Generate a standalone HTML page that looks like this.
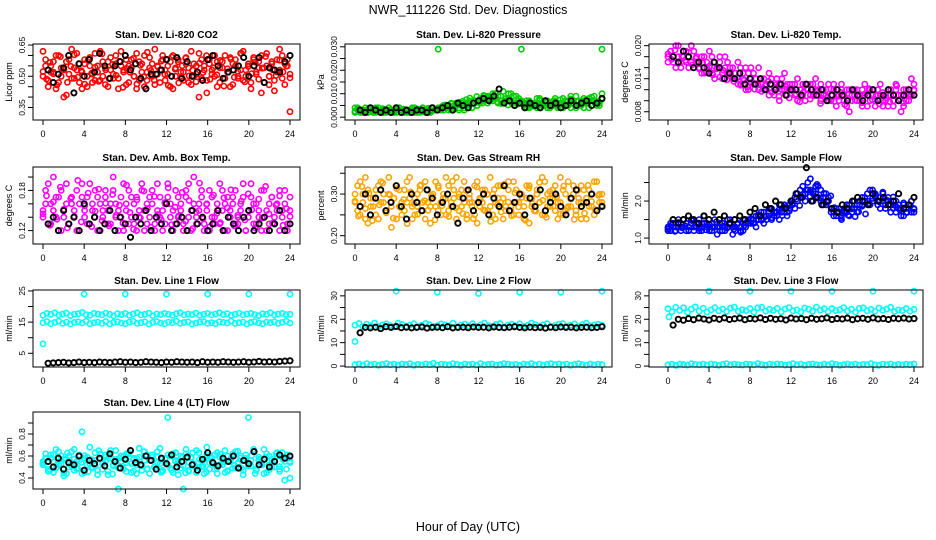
<!DOCTYPE html>
<html><head><meta charset="utf-8">
<style>
html,body{margin:0;padding:0;background:#fff;}
svg{display:block;font-family:"Liberation Sans",Arial,sans-serif;}
</style></head>
<body>
<svg id="chart" width="936" height="540" viewBox="0 0 936 540">
<text x="468" y="14" font-size="12.5" text-anchor="middle">NWR_111226  Std. Dev. Diagnostics</text>
<text x="468" y="531" font-size="12.5" text-anchor="middle">Hour of Day (UTC)</text>
<g id="panels"></g>
</svg>
<script>
const xTicks = [0,4,8,12,16,20,24];

const co2A = [0.62,0.55,0.48,0.52,0.57,0.44,0.60,0.50,0.53,0.41,0.58,0.49,0.54,0.61,0.47,0.52,0.56,0.45,0.59,0.51,0.48,0.55,0.62,0.50,0.46,0.57,0.53,0.49,0.60,0.44,0.55,0.52,0.58,0.47,0.54,0.50,0.61,0.48,0.56,0.45,0.52,0.59,0.50,0.46,0.55,0.53,0.60,0.48,0.51,0.57,0.44,0.54,0.58,0.49,0.52,0.56,0.47,0.62,0.50,0.55,0.40,0.58,0.53,0.48,0.56,0.51,0.60,0.45,0.54,0.57,0.49,0.52,0.59,0.46,0.55,0.50,0.61,0.48,0.53,0.56,0.44,0.58,0.51,0.54,0.60,0.47,0.55,0.50,0.57,0.43,0.52,0.63,0.49,0.56,0.58,0.33];
const co2B = [0.50,0.58,0.45,0.55,0.52,0.60,0.47,0.54,0.40,0.57,0.51,0.63,0.49,0.53,0.56,0.44,0.58,0.50,0.55,0.47,0.61,0.52,0.48,0.57,0.54,0.45,0.59,0.51,0.56,0.49,0.62,0.53,0.46,0.55,0.58,0.50,0.44,0.57,0.52,0.60,0.48,0.54,0.56,0.63,0.51,0.47,0.58,0.53,0.55,0.45,0.60,0.50,0.57,0.52,0.48,0.59,0.54,0.46,0.56,0.51,0.61,0.49,0.55,0.42,0.58,0.53,0.50,0.57,0.47,0.54,0.60,0.52,0.45,0.56,0.58,0.49,0.53,0.62,0.50,0.55,0.47,0.59,0.52,0.57,0.42,0.54,0.61,0.50,0.56,0.48,0.58,0.53,0.60,0.46,0.55,0.51];
const co2C = [0.523,0.487,0.566,0.512,0.458,0.594,0.535,0.471,0.548,0.603,0.496,0.527,0.462,0.581,0.515,0.543,0.476,0.608,0.531,0.489,0.557,0.504,0.572,0.447,0.538,0.519,0.586,0.463,0.552,0.497,0.615,0.528,0.481,0.546,0.573,0.509,0.456,0.592,0.534,0.468,0.551,0.587,0.502,0.529,0.474,0.563,0.518,0.599,0.485,0.541,0.507,0.576,0.453,0.536,0.582,0.495,0.524,0.611,0.473,0.547,0.513,0.568,0.486,0.539,0.595,0.459,0.531,0.504,0.577,0.521,0.549,0.492];
const co2Black = [0.53,0.47,0.51,0.54,0.60,0.42,0.56,0.50,0.58,0.52,0.61,0.55,0.49,0.55,0.57,0.60,0.53,0.56,0.49,0.44,0.51,0.51,0.53,0.58,0.50,0.59,0.49,0.57,0.50,0.52,0.48,0.58,0.60,0.55,0.49,0.52,0.53,0.55,0.59,0.50,0.55,0.59,0.47,0.54,0.53,0.52,0.57,0.60];

const presA = [0.004,0.003,0.002,0.003,0.004,0.002,0.003,0.002,0.004,0.003,0.002,0.003,0.002,0.004,0.003,0.002,0.003,0.004,0.002,0.003,0.002,0.003,0.004,0.002,0.003,0.002,0.004,0.003,0.002,0.003,0.004,0.003,0.029,0.003,0.005,0.004,0.003,0.006,0.004,0.005,0.003,0.006,0.004,0.005,0.007,0.004,0.006,0.005,0.007,0.006,0.008,0.009,0.007,0.010,0.008,0.006,0.009,0.011,0.007,0.008,0.010,0.006,0.009,0.007,0.029,0.005,0.007,0.004,0.006,0.005,0.008,0.004,0.006,0.005,0.007,0.004,0.006,0.008,0.005,0.006,0.004,0.007,0.005,0.009,0.006,0.004,0.007,0.005,0.008,0.006,0.004,0.007,0.009,0.005,0.006,0.029];
const presB = [0.002,0.004,0.003,0.002,0.003,0.002,0.004,0.003,0.002,0.004,0.003,0.002,0.003,0.004,0.002,0.003,0.002,0.004,0.003,0.002,0.003,0.002,0.003,0.004,0.002,0.003,0.004,0.002,0.003,0.002,0.004,0.003,0.003,0.004,0.003,0.005,0.004,0.003,0.005,0.006,0.004,0.005,0.003,0.006,0.005,0.004,0.007,0.005,0.006,0.007,0.009,0.006,0.008,0.007,0.010,0.009,0.007,0.006,0.008,0.010,0.007,0.009,0.006,0.008,0.007,0.006,0.004,0.007,0.005,0.006,0.004,0.008,0.005,0.007,0.004,0.006,0.005,0.007,0.004,0.006,0.008,0.005,0.007,0.004,0.006,0.009,0.005,0.007,0.004,0.006,0.008,0.005,0.007,0.006,0.005,0.010];
const presC = [0.0025,0.0035,0.0030,0.0022,0.0038,0.0028,0.0033,0.0024,0.0036,0.0027,0.0031,0.0023,0.0037,0.0029,0.0034,0.0026,0.0032,0.0024,0.0035,0.0028,0.0030,0.0038,0.0025,0.0033,0.0040,0.0045,0.0052,0.0047,0.0058,0.0055,0.0063,0.0068,0.0075,0.0082,0.0071,0.0088,0.0079,0.0093,0.0085,0.0072,0.0081,0.0065,0.0058,0.0066,0.0052,0.0061,0.0049,0.0057,0.0064,0.0053,0.0068,0.0047,0.0059,0.0072,0.0055,0.0063,0.0048,0.0069,0.0057,0.0074,0.0052,0.0065,0.0078,0.0058,0.0066,0.0054,0.0071,0.0062,0.0085,0.0059,0.0067,0.0076];
const presBlack = [0.003,0.002,0.004,0.003,0.002,0.003,0.002,0.004,0.002,0.003,0.002,0.003,0.003,0.002,0.004,0.003,0.004,0.005,0.003,0.006,0.005,0.004,0.006,0.007,0.008,0.007,0.009,0.012,0.006,0.007,0.005,0.006,0.004,0.006,0.005,0.004,0.007,0.005,0.006,0.004,0.005,0.007,0.005,0.006,0.007,0.005,0.006,0.008];

const tempA = [0.018,0.019,0.017,0.020,0.018,0.016,0.019,0.017,0.018,0.020,0.016,0.018,0.017,0.015,0.018,0.016,0.019,0.015,0.017,0.016,0.018,0.014,0.016,0.017,0.015,0.016,0.014,0.017,0.013,0.015,0.016,0.012,0.014,0.015,0.013,0.016,0.013,0.014,0.012,0.015,0.013,0.011,0.014,0.013,0.012,0.015,0.013,0.012,0.013,0.011,0.014,0.012,0.013,0.010,0.012,0.013,0.011,0.014,0.012,0.010,0.012,0.011,0.013,0.010,0.012,0.009,0.011,0.013,0.010,0.012,0.008,0.011,0.012,0.010,0.011,0.009,0.013,0.011,0.010,0.012,0.009,0.011,0.013,0.010,0.011,0.009,0.012,0.010,0.013,0.011,0.008,0.012,0.010,0.011,0.014,0.012];
const tempB = [0.017,0.019,0.018,0.016,0.020,0.017,0.018,0.019,0.016,0.017,0.019,0.017,0.016,0.018,0.015,0.017,0.016,0.018,0.014,0.016,0.017,0.015,0.018,0.015,0.016,0.014,0.015,0.013,0.016,0.014,0.012,0.015,0.016,0.013,0.014,0.012,0.014,0.012,0.013,0.011,0.014,0.012,0.013,0.010,0.014,0.012,0.011,0.013,0.012,0.013,0.010,0.012,0.011,0.013,0.012,0.011,0.013,0.012,0.011,0.013,0.011,0.012,0.010,0.011,0.013,0.011,0.010,0.012,0.011,0.009,0.012,0.010,0.011,0.012,0.010,0.012,0.011,0.009,0.012,0.011,0.010,0.012,0.011,0.009,0.010,0.012,0.011,0.009,0.012,0.010,0.011,0.009,0.012,0.010,0.011,0.013];
const tempC = [0.0185,0.0175,0.0192,0.0168,0.0181,0.0173,0.0188,0.0165,0.0177,0.0158,0.0169,0.0152,0.0163,0.0147,0.0158,0.0143,0.0155,0.0138,0.0149,0.0135,0.0142,0.0128,0.0137,0.0125,0.0133,0.0121,0.0129,0.0117,0.0127,0.0135,0.0115,0.0124,0.0108,0.0119,0.0126,0.0105,0.0118,0.0112,0.0098,0.0115,0.0122,0.0103,0.0109,0.0117,0.0095,0.0112,0.0106,0.0121,0.0099,0.0108,0.0115,0.0093,0.0104,0.0118,0.0101,0.0107,0.0096,0.0113,0.0122,0.0102,0.0109,0.0094,0.0115,0.0105,0.0098,0.0111,0.0127,0.0103,0.0096,0.0114,0.0108,0.0119];
const tempBlack = [0.018,0.017,0.019,0.018,0.016,0.017,0.016,0.015,0.017,0.016,0.014,0.015,0.014,0.015,0.013,0.014,0.013,0.014,0.012,0.013,0.012,0.013,0.011,0.012,0.012,0.011,0.013,0.012,0.011,0.012,0.010,0.011,0.012,0.011,0.010,0.012,0.011,0.010,0.011,0.012,0.010,0.011,0.012,0.011,0.010,0.011,0.012,0.011];

const boxA = [0.15,0.18,0.13,0.16,0.20,0.14,0.17,0.12,0.15,0.19,0.13,0.16,0.14,0.18,0.12,0.17,0.15,0.13,0.19,0.16,0.14,0.17,0.12,0.15,0.18,0.13,0.16,0.20,0.14,0.15,0.17,0.12,0.16,0.18,0.14,0.13,0.17,0.15,0.19,0.12,0.16,0.14,0.18,0.13,0.15,0.17,0.12,0.16,0.19,0.14,0.15,0.13,0.17,0.16,0.12,0.18,0.14,0.15,0.20,0.13,0.16,0.17,0.12,0.15,0.18,0.14,0.13,0.16,0.19,0.15,0.12,0.17,0.14,0.16,0.18,0.13,0.15,0.17,0.12,0.14,0.19,0.16,0.13,0.15,0.18,0.14,0.12,0.16,0.17,0.13,0.15,0.18,0.14,0.16,0.12,0.15];
const boxB = [0.14,0.16,0.19,0.13,0.15,0.17,0.12,0.18,0.14,0.16,0.13,0.17,0.15,0.12,0.16,0.19,0.14,0.17,0.13,0.15,0.18,0.12,0.16,0.14,0.17,0.15,0.13,0.18,0.16,0.12,0.14,0.19,0.15,0.13,0.17,0.16,0.12,0.14,0.18,0.15,0.13,0.17,0.16,0.12,0.19,0.14,0.15,0.13,0.17,0.16,0.12,0.18,0.14,0.15,0.13,0.17,0.19,0.12,0.16,0.14,0.15,0.18,0.13,0.16,0.12,0.17,0.14,0.15,0.13,0.18,0.16,0.12,0.15,0.17,0.13,0.14,0.16,0.19,0.12,0.15,0.17,0.13,0.16,0.14,0.12,0.18,0.15,0.13,0.17,0.14,0.16,0.12,0.15,0.18,0.13,0.17];
const boxC = [0.145,0.172,0.128,0.163,0.137,0.185,0.152,0.124,0.168,0.141,0.195,0.133,0.157,0.176,0.126,0.149,0.182,0.135,0.161,0.127,0.174,0.143,0.158,0.131,0.188,0.147,0.122,0.166,0.139,0.179,0.153,0.125,0.171,0.144,0.136,0.162,0.184,0.129,0.155,0.142,0.177,0.134,0.165,0.123,0.148,0.191,0.138,0.159,0.126,0.173,0.146,0.132,0.169,0.154,0.181,0.127,0.143,0.164,0.136,0.175,0.151,0.124,0.167,0.139,0.186,0.145,0.131,0.158,0.172,0.128,0.153,0.141];
const boxBlack = [0.13,0.14,0.12,0.15,0.13,0.14,0.12,0.16,0.13,0.14,0.12,0.13,0.15,0.12,0.14,0.13,0.11,0.14,0.13,0.15,0.12,0.14,0.13,0.16,0.12,0.13,0.14,0.12,0.15,0.13,0.14,0.12,0.13,0.15,0.12,0.14,0.13,0.12,0.14,0.15,0.12,0.13,0.14,0.12,0.13,0.15,0.12,0.13];

const rhA = [0.28,0.32,0.25,0.30,0.34,0.23,0.29,0.27,0.31,0.24,0.33,0.28,0.26,0.30,0.22,0.29,0.32,0.27,0.25,0.31,0.28,0.34,0.24,0.29,0.27,0.31,0.26,0.33,0.28,0.23,0.30,0.27,0.32,0.25,0.29,0.34,0.26,0.28,0.31,0.24,0.30,0.27,0.33,0.25,0.29,0.28,0.32,0.23,0.27,0.31,0.26,0.30,0.34,0.25,0.28,0.29,0.32,0.24,0.27,0.31,0.26,0.33,0.28,0.25,0.30,0.27,0.32,0.23,0.29,0.26,0.31,0.28,0.34,0.25,0.30,0.27,0.29,0.32,0.24,0.28,0.31,0.26,0.33,0.27,0.30,0.25,0.29,0.32,0.28,0.24,0.31,0.27,0.33,0.26,0.30,0.28];
const rhB = [0.30,0.26,0.33,0.28,0.24,0.31,0.27,0.29,0.25,0.32,0.28,0.30,0.26,0.34,0.27,0.29,0.24,0.31,0.28,0.26,0.33,0.29,0.27,0.25,0.30,0.32,0.28,0.24,0.31,0.27,0.29,0.33,0.26,0.28,0.30,0.25,0.32,0.27,0.29,0.34,0.26,0.31,0.28,0.24,0.30,0.27,0.25,0.33,0.29,0.28,0.31,0.26,0.27,0.30,0.24,0.32,0.28,0.29,0.26,0.33,0.27,0.25,0.31,0.28,0.30,0.24,0.29,0.32,0.27,0.26,0.30,0.28,0.25,0.33,0.27,0.29,0.31,0.26,0.28,0.34,0.25,0.30,0.27,0.29,0.32,0.26,0.28,0.24,0.31,0.29,0.27,0.30,0.25,0.33,0.28,0.30];
const rhC = [0.283,0.247,0.318,0.265,0.302,0.236,0.291,0.274,0.327,0.255,0.298,0.242,0.313,0.268,0.287,0.229,0.305,0.276,0.251,0.322,0.284,0.261,0.296,0.238,0.315,0.272,0.289,0.246,0.331,0.267,0.293,0.253,0.308,0.279,0.241,0.317,0.286,0.262,0.299,0.234,0.311,0.275,0.257,0.324,0.281,0.248,0.303,0.269,0.292,0.237,0.314,0.277,0.259,0.328,0.285,0.244,0.306,0.271,0.294,0.252,0.319,0.266,0.288,0.239,0.309,0.278,0.254,0.321,0.282,0.263,0.297,0.273];
const rhBlack = [0.27,0.30,0.25,0.29,0.31,0.26,0.28,0.32,0.27,0.24,0.30,0.28,0.26,0.31,0.29,0.25,0.28,0.30,0.27,0.23,0.29,0.31,0.26,0.28,0.30,0.25,0.29,0.27,0.32,0.26,0.28,0.30,0.25,0.29,0.27,0.31,0.26,0.28,0.30,0.27,0.25,0.29,0.31,0.27,0.28,0.30,0.26,0.27];

const flowA = [1.3,1.2,1.4,1.3,1.5,1.2,1.3,1.4,1.2,1.5,1.3,1.4,1.2,1.3,1.6,1.4,1.3,1.2,1.5,1.3,1.4,1.2,1.3,1.5,1.4,1.1,1.3,1.4,1.2,1.5,1.3,1.4,1.5,1.4,1.6,1.5,1.7,1.4,1.6,1.8,1.5,1.7,1.6,1.9,1.7,1.8,1.6,1.9,2.0,1.8,2.2,2.1,2.4,2.0,2.3,2.6,2.2,2.4,2.1,2.3,1.9,2.2,2.0,1.8,1.7,1.6,1.8,1.5,1.7,1.9,1.6,1.8,2.0,1.7,1.9,2.1,2.0,2.2,1.9,2.3,2.1,2.0,1.8,2.2,1.9,2.1,1.7,1.9,2.0,1.8,1.6,1.9,1.7,1.8,2.0,1.7];
const flowB = [1.2,1.4,1.3,1.2,1.3,1.4,1.5,1.2,1.3,1.4,1.2,1.3,1.5,1.2,1.4,1.3,1.2,1.4,1.3,1.1,1.3,1.4,1.2,1.3,1.5,1.3,1.2,1.4,1.3,1.2,1.4,1.5,1.4,1.5,1.3,1.6,1.5,1.7,1.5,1.6,1.8,1.6,1.7,1.5,1.8,1.9,1.7,1.8,1.9,2.1,2.0,2.3,2.1,2.2,2.5,2.3,2.0,2.2,2.4,2.0,2.1,1.9,2.1,1.7,1.6,1.8,1.7,1.6,1.8,1.7,1.9,1.7,1.8,1.9,2.0,1.9,2.1,2.0,2.3,2.0,2.2,1.9,2.1,2.0,1.8,2.0,1.9,1.8,1.7,1.9,1.8,1.6,1.8,1.9,1.7,1.8];
const flowC = [1.25,1.35,1.18,1.42,1.28,1.33,1.21,1.47,1.31,1.26,1.38,1.22,1.36,1.29,1.44,1.19,1.32,1.27,1.39,1.24,1.37,1.16,1.34,1.45,1.52,1.41,1.63,1.48,1.57,1.72,1.55,1.68,1.76,1.61,1.85,1.73,1.94,2.05,1.88,2.17,2.31,2.12,2.26,2.45,2.08,2.21,1.97,2.14,1.82,1.68,1.55,1.74,1.62,1.79,1.58,1.71,1.86,1.65,1.93,2.07,2.15,1.98,2.24,2.03,1.91,2.11,1.84,1.76,1.95,1.69,1.87,1.78];
const flowBlack = [1.5,1.4,1.5,1.6,1.5,1.4,1.6,1.5,1.7,1.5,1.6,1.4,1.5,1.6,1.5,1.7,1.8,1.6,1.9,1.8,2.0,1.9,1.8,2.0,2.2,2.1,2.9,2.0,2.1,1.9,2.0,1.8,1.7,1.9,1.8,2.0,2.1,2.0,1.9,2.2,2.0,2.1,1.9,2.0,2.2,1.8,1.9,2.1];

const line1Up = [17.2,17.8,17.5,18.0,17.3,17.6,17.9,17.1,17.5,17.7,18.1,17.4,17.2,17.8,17.6,17.3,17.9,17.5,17.0,17.7,17.4,17.8,17.2,17.6,18.0,17.3,17.5,17.9,17.1,17.6,17.4,17.8,17.5,17.2,17.7,18.0,17.3,17.6,17.4,17.9,17.2,17.5,17.8,17.3,17.6,18.0,17.4,17.7,17.2,17.5,17.9,17.3,17.6,17.8,17.4,17.1,17.7,17.5,18.0,17.3,17.6,17.8,17.4,17.5];
const line1Low = [14.8,15.2,14.5,14.9,15.3,14.6,15.0,14.4,14.9,15.1,14.7,15.3,14.5,14.8,15.0,14.6,15.2,14.4,14.9,15.1,14.7,14.5,15.0,15.3,14.6,14.8,15.1,14.4,14.9,15.2,14.7,14.5,15.0,14.8,15.3,14.6,14.9,15.1,14.4,14.7,15.0,15.2,14.6,14.8,14.5,15.1,14.9,14.7,15.3,14.6,14.8,15.0,14.4,14.9,15.2,14.7,14.5,15.0,14.8,15.1,14.6,14.9,15.3,14.7];
const line1Black = [1.8,1.9,2.0,2.1,1.9,2.0,2.2,2.0,2.1,2.0,2.2,2.1,2.0,2.2,2.3,2.1,2.2,2.0,2.1,2.3,2.2,2.1,2.0,2.2,2.1,2.3,2.2,2.1,2.2,2.0,2.3,2.1,2.2,2.1,2.3,2.2,2.1,2.2,2.3,2.1,2.2,2.4,2.2,2.3,2.2,2.4,2.5,2.6];
const line1OutX = [0,4,8,12,16,20,24];
const line1OutY = [8,24,24,24,24,24,24];

const line2Up = [17.5,18.2,16.8,17.9,17.2,18.4,16.9,17.6,18.0,17.3,16.7,18.3,17.8,17.0,17.5,18.1,16.8,17.4,18.2,17.7,16.9,17.3,18.0,17.6,17.1,18.3,16.8,17.5,17.9,17.2,18.1,16.9,17.6,18.4,17.3,17.0,17.8,18.2,16.7,17.5,17.9,17.2,18.0,16.9,17.4,18.3,17.7,17.1,17.6,18.1,16.8,17.3,17.9,18.2,17.0,17.5,18.0,16.9,17.7,18.3,17.2,17.6,17.9,17.4];
const line2Low = [0.6,0.9,0.4,1.0,0.5,0.8,0.3,0.7,1.1,0.5,0.8,0.4,0.9,0.6,1.0,0.3,0.7,0.5,0.9,0.6,1.2,0.4,0.8,0.6,0.5,1.0,0.7,0.3,0.9,0.6,0.8,0.4,1.1,0.5,0.7,0.9,0.4,0.6,1.0,0.8,0.5,0.7,0.3,0.9,0.6,1.1,0.5,0.8,0.4,0.7,1.0,0.6,0.9,0.5,0.8,0.3,0.7,1.0,0.6,0.4,0.9,0.5,0.8,0.6];
const line2Black = [14.2,16.5,16.3,16.6,16.0,16.8,16.5,16.9,16.4,16.6,16.3,16.5,16.7,16.2,16.5,16.6,16.4,16.8,16.3,16.5,16.6,16.4,16.7,16.5,16.6,16.3,16.7,16.5,16.4,16.6,16.8,16.5,16.3,16.6,16.4,16.5,16.2,16.6,16.4,16.7,16.5,16.6,16.3,16.5,16.6,16.4,16.5,16.8];
const line2OutX = [0,4,8,12,16,20,24];
const line2OutY = [10.5,32,31.5,31,31.5,31.5,32];

const line3Up = [24.5,23.2,25.1,23.8,24.9,23.0,24.3,25.3,23.5,24.7,23.1,24.0,25.0,23.6,24.4,23.3,24.8,25.2,23.4,24.1,23.7,24.6,23.0,24.9,25.1,23.5,24.2,23.8,24.7,23.2,24.4,25.0,23.6,24.0,23.1,24.8,24.3,23.4,25.2,23.9,24.5,23.3,24.6,23.7,24.1,25.0,23.5,24.3,23.0,24.7,24.9,23.6,24.2,23.4,24.8,23.8,24.4,25.1,23.3,24.0,23.7,24.6,23.5,24.2];
const line3Low = [0.5,0.8,0.3,0.9,0.6,0.4,1.0,0.7,0.5,0.8,0.4,0.9,0.6,0.3,0.7,1.0,0.5,0.8,0.6,0.4,0.9,0.7,0.5,1.1,0.6,0.3,0.8,0.5,0.9,0.7,0.4,0.6,1.0,0.5,0.8,0.3,0.7,0.9,0.6,0.4,0.8,0.5,1.0,0.7,0.3,0.6,0.9,0.5,0.8,0.4,0.7,0.6,1.0,0.5,0.3,0.8,0.6,0.9,0.4,0.7,0.5,0.8,0.6,0.9];
const line3Black = [17.5,20.0,19.6,20.3,19.8,20.5,20.1,19.7,20.4,20.0,20.6,19.9,20.2,20.5,19.8,20.3,20.1,20.6,19.9,20.4,20.0,20.2,19.7,20.5,20.1,20.3,19.8,20.4,20.0,20.2,20.6,19.9,20.3,20.1,20.5,19.8,20.2,20.4,20.0,20.6,20.1,20.3,19.9,20.4,20.2,20.5,20.1,20.3];
const line3OutX = [0.1,4,8,12,16,20,24];
const line3OutY = [21,32,32,32,32,32,32];

const line4A = [0.55,0.62,0.48,0.58,0.45,0.66,0.52,0.60,0.42,0.57,0.50,0.64,0.47,0.55,0.61,0.44,0.58,0.52,0.68,0.49,0.56,0.43,0.62,0.53,0.59,0.46,0.65,0.51,0.57,0.30,0.60,0.48,0.54,0.63,0.45,0.58,0.52,0.67,0.47,0.56,0.61,0.44,0.59,0.50,0.64,0.53,0.46,0.57,0.95,0.49,0.62,0.55,0.43,0.60,0.51,0.66,0.47,0.58,0.53,0.45,0.63,0.50,0.57,0.68,0.48,0.55,0.61,0.44,0.59,0.52,0.65,0.46,0.56,0.62,0.49,0.54,0.60,0.43,0.58,0.95,0.51,0.64,0.47,0.57,0.53,0.66,0.45,0.60,0.50,0.56,0.63,0.48,0.59,0.38,0.61,0.54];
const line4B = [0.52,0.58,0.46,0.61,0.55,0.49,0.64,0.53,0.57,0.44,0.60,0.51,0.66,0.48,0.56,0.82,0.45,0.59,0.53,0.50,0.63,0.47,0.57,0.54,0.61,0.43,0.58,0.52,0.65,0.49,0.55,0.60,0.46,0.62,0.53,0.57,0.44,0.59,0.51,0.64,0.48,0.56,0.61,0.50,0.54,0.67,0.47,0.58,0.52,0.60,0.45,0.63,0.55,0.49,0.30,0.62,0.46,0.59,0.53,0.65,0.50,0.56,0.44,0.61,0.54,0.58,0.48,0.63,0.52,0.57,0.45,0.60,0.55,0.49,0.64,0.53,0.58,0.47,0.61,0.51,0.56,0.66,0.48,0.59,0.54,0.44,0.62,0.52,0.57,0.50,0.60,0.46,0.63,0.55,0.58,0.40];
const line4C = [0.535,0.582,0.467,0.613,0.498,0.556,0.445,0.627,0.519,0.573,0.486,0.541,0.604,0.458,0.567,0.512,0.649,0.478,0.553,0.596,0.436,0.528,0.581,0.492,0.619,0.547,0.463,0.576,0.515,0.638,0.484,0.559,0.501,0.592,0.452,0.537,0.611,0.473,0.564,0.526,0.586,0.447,0.543,0.628,0.495,0.571,0.509,0.455,0.598,0.532,0.487,0.617,0.548,0.466,0.579,0.514,0.643,0.491,0.562,0.524,0.605,0.442,0.557,0.518,0.589,0.475,0.536,0.622,0.503,0.568,0.481,0.552];
const line4Black = [0.55,0.50,0.58,0.48,0.54,0.52,0.60,0.47,0.56,0.53,0.58,0.51,0.62,0.55,0.49,0.57,0.65,0.54,0.52,0.60,0.56,0.48,0.58,0.53,0.61,0.50,0.55,0.59,0.52,0.47,0.57,0.63,0.54,0.51,0.58,0.55,0.60,0.49,0.56,0.53,0.64,0.52,0.57,0.50,0.55,0.61,0.58,0.60];

const yTicks1 = [0.35,0.40,0.45,0.50,0.55,0.60,0.65];  const yLab1 = ["0.35","","","0.50","","","0.65"];
const yTicks2 = [0,0.005,0.010,0.015,0.020,0.025,0.030]; const yLab2 = ["0.000","","0.010","","0.020","","0.030"];
const yTicks3 = [0.008,0.010,0.012,0.014,0.016,0.018,0.020]; const yLab3 = ["0.008","","","0.014","","","0.020"];
const yTicks4 = [0.12,0.14,0.16,0.18,0.20]; const yLab4 = ["0.12","","","0.18",""];
const yTicks5 = [0.20,0.25,0.30,0.35]; const yLab5 = ["0.20","","0.30",""];
const yTicks6 = [1.0,1.5,2.0,2.5]; const yLab6 = ["1.0","","2.0",""];
const yTicks7 = [5,10,15,20,25]; const yLab7 = ["5","","15","","25"];
const yTicks8 = [0,5,10,15,20,25,30]; const yLab8 = ["0","","10","","20","","30"];
const yTicks9 = [0,5,10,15,20,25,30]; const yLab9 = ["0","","10","","20","","30"];
const yTicks10 = [0.4,0.5,0.6,0.7,0.8,0.9]; const yLab10 = ["0.4","","0.6","","0.8",""];

const NS = "http://www.w3.org/2000/svg";
const root = document.getElementById('panels');
function mk(tag, attrs, parent){const e=document.createElementNS(NS,tag);for(const k in attrs)e.setAttribute(k,attrs[k]);parent.appendChild(e);return e;}

const cols = [{l:33,r:300,x0:43,x24:290},{l:345,r:612,x0:355,x24:602},{l:649,r:923,x0:668,x24:914}];
const rows = [{t:44,b:120},{t:167,b:244},{t:290,b:367},{t:412,b:489}];

const panels = [
 {name:"co2",title:"Stan. Dev. Li-820 CO2",ylab:"Licor ppm",c:0,r:0,ylim:[0.29,0.655],ticks:yTicks1,labs:yLab1,series:[[co2A,"#ff0000"],[co2B,"#ff0000"],[co2C,"#ff0000"],[co2Black,"#000"]]},
 {name:"pressure",title:"Stan. Dev. Li-820 Pressure",ylab:"kPa",c:1,r:0,ylim:[-0.0012,0.0312],ticks:yTicks2,labs:yLab2,series:[[presA,"#00cd00"],[presB,"#00cd00"],[presC,"#00cd00"],[presBlack,"#000"]]},
 {name:"temp",title:"Stan. Dev. Li-820 Temp.",ylab:"degrees C",c:2,r:0,ylim:[0.0065,0.0203],ticks:yTicks3,labs:yLab3,series:[[tempA,"#ff00ff"],[tempB,"#ff00ff"],[tempC,"#ff00ff"],[tempBlack,"#000"]]},
 {name:"box-temp",title:"Stan. Dev. Amb. Box Temp.",ylab:"degrees C",c:0,r:1,ylim:[0.10,0.215],ticks:yTicks4,labs:yLab4,series:[[boxA,"#ff00ff"],[boxB,"#ff00ff"],[boxC,"#ff00ff"],[boxBlack,"#000"]]},
 {name:"rh",title:"Stan. Dev. Gas Stream RH",ylab:"percent",c:1,r:1,ylim:[0.18,0.365],ticks:yTicks5,labs:yLab5,series:[[rhA,"#ffa500"],[rhB,"#ffa500"],[rhC,"#ffa500"],[rhBlack,"#000"]]},
 {name:"sample-flow",title:"Stan. Dev. Sample Flow",ylab:"ml/min",c:2,r:1,ylim:[0.84,2.92],ticks:yTicks6,labs:yLab6,series:[[flowA,"#0000ff"],[flowB,"#0000ff"],[flowC,"#0000ff"],[flowBlack,"#000"]]},
 {name:"line1",title:"Stan. Dev. Line 1 Flow",ylab:"ml/min",c:0,r:2,ylim:[0.6,25.3],ticks:yTicks7,labs:yLab7,series:[[line1Up,"#00ffff"],[line1Low,"#00ffff"],[line1Black,"#000"]],out:[line1OutX,line1OutY]},
 {name:"line2",title:"Stan. Dev. Line 2 Flow",ylab:"ml/min",c:1,r:2,ylim:[-0.4,32.5],ticks:yTicks8,labs:yLab8,series:[[line2Up,"#00ffff"],[line2Low,"#00ffff"],[line2Black,"#000"]],out:[line2OutX,line2OutY]},
 {name:"line3",title:"Stan. Dev. Line 3 Flow",ylab:"ml/min",c:2,r:2,ylim:[-0.4,32.5],ticks:yTicks9,labs:yLab9,series:[[line3Up,"#00ffff"],[line3Low,"#00ffff"],[line3Black,"#000"]],out:[line3OutX,line3OutY]},
 {name:"line4",title:"Stan. Dev. Line 4 (LT) Flow",ylab:"ml/min",c:0,r:3,ylim:[0.30,1.0],ticks:yTicks10,labs:yLab10,series:[[line4A,"#00ffff"],[line4B,"#00ffff"],[line4C,"#00ffff"],[line4Black,"#000"]]}
];

panels.forEach(p=>{
  const C=cols[p.c], R=rows[p.r];
  const g=mk('g',{},root);
  
  
  const xs=v=>C.x0+(C.x24-C.x0)*v/24;
  const ys=v=>R.b-(R.b-R.t)*(v-p.ylim[0])/(p.ylim[1]-p.ylim[0]);
  const t=mk('text',{x:(C.l+C.r)/2,y:R.t-6,'font-size':10,'font-weight':'bold','text-anchor':'middle'},g);
  t.textContent=p.title;
  
  
  const pts=mk('g',{fill:'none'},g);
  
  
  p.series.forEach(([arr,col])=>{
    const black=col==="#000";
    const n=arr.length;
    arr.forEach((v,i)=>{
      const hx = black ? 0.5+i*(23.5/(n-1)) : i*24/(n-1);
      const c=mk('circle',{cx:xs(hx).toFixed(1),cy:ys(v).toFixed(1),r:2.6,stroke:col,'stroke-width':black?1.9:1.6},pts);
      
      
    });
  });
  if(p.out){
    p.out[0].forEach((hx,i)=>{
      const c=mk('circle',{cx:xs(hx).toFixed(1),cy:ys(p.out[1][i]).toFixed(1),r:2.6,stroke:'#00ffff','stroke-width':1.6,fill:'none'},pts);
      
      
    });
  }
  const box=mk('rect',{x:C.l,y:R.t,width:C.r-C.l,height:R.b-R.t,fill:'none',stroke:'#000','stroke-width':1},g);
  
  
  const xa=mk('g',{},g);
  
  
  mk('line',{x1:xs(0),x2:xs(24),y1:R.b,y2:R.b,stroke:'#000'},xa);
  xTicks.forEach(v=>{
    mk('line',{x1:xs(v),x2:xs(v),y1:R.b,y2:R.b+5,stroke:'#000'},xa);
    const l=mk('text',{x:xs(v),y:R.b+17,'font-size':9,'text-anchor':'middle'},xa);
    l.textContent=v;
  });
  const ya=mk('g',{},g);
  
  
  p.ticks.forEach((v,i)=>{
    const y=ys(v);
    mk('line',{x1:C.l-5,x2:C.l,y1:y,y2:y,stroke:'#000'},ya);
    if(p.labs[i]){
      const l=mk('text',{x:C.l-8,y:y,'font-size':8.5,'text-anchor':'middle',transform:`rotate(-90 ${C.l-8} ${y})`},ya);
      l.textContent=p.labs[i];
    }
  });
  const yt=mk('text',{x:C.l-21,y:(R.t+R.b)/2,'font-size':9,'text-anchor':'middle',transform:`rotate(-90 ${C.l-21} ${(R.t+R.b)/2})`},g);
  yt.textContent=p.ylab;
  
  
});
</script>
</body></html>
